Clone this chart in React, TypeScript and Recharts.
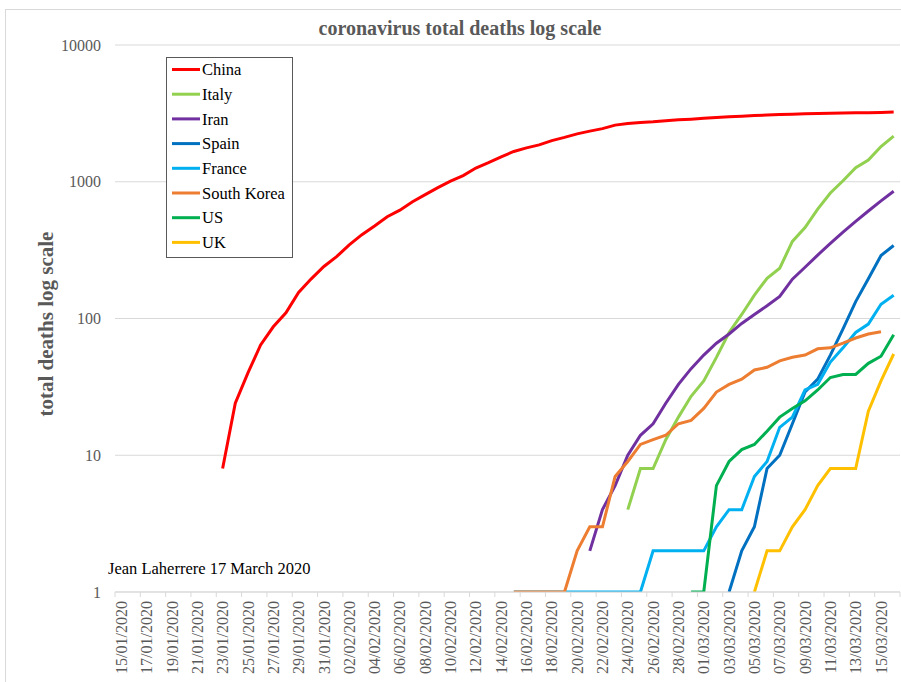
import React from 'react';
import { LineChart, Line, XAxis, YAxis, CartesianGrid } from 'recharts';

const dates = [
  '15/01/2020', '16/01/2020', '17/01/2020', '18/01/2020', '19/01/2020', '20/01/2020', '21/01/2020',
  '22/01/2020', '23/01/2020', '24/01/2020', '25/01/2020', '26/01/2020', '27/01/2020', '28/01/2020',
  '29/01/2020', '30/01/2020', '31/01/2020',
  '01/02/2020', '02/02/2020', '03/02/2020', '04/02/2020', '05/02/2020', '06/02/2020', '07/02/2020',
  '08/02/2020', '09/02/2020', '10/02/2020', '11/02/2020', '12/02/2020', '13/02/2020', '14/02/2020',
  '15/02/2020', '16/02/2020', '17/02/2020', '18/02/2020', '19/02/2020', '20/02/2020', '21/02/2020',
  '22/02/2020', '23/02/2020', '24/02/2020', '25/02/2020', '26/02/2020', '27/02/2020', '28/02/2020',
  '29/02/2020',
  '01/03/2020', '02/03/2020', '03/03/2020', '04/03/2020', '05/03/2020', '06/03/2020', '07/03/2020',
  '08/03/2020', '09/03/2020', '10/03/2020', '11/03/2020', '12/03/2020', '13/03/2020', '14/03/2020',
  '15/03/2020', '16/03/2020',
];

const yTicks = [1, 10, 100, 1000, 10000];

// each series starts on its first date, then one value per day
const chinaFrom = '23/01/2020';
const china = [
  8, 24, 40, 64, 87, 110, 155, 195, 240,
  283, 345, 410, 475, 555, 620, 715, 805, 905, 1010, 1110, 1260, 1380, 1520, 1665, 1770, 1860, 2000,
  2110, 2240, 2345, 2445, 2595, 2665, 2715, 2745, 2790, 2835, 2870,
  2915, 2945, 2985, 3015, 3045, 3075, 3100, 3120, 3140, 3160, 3170, 3180, 3190, 3200, 3215, 3230,
];

const italyFrom = '24/02/2020';
const italy = [
  4, 8, 8, 13, 19, 27,
  35, 52, 79, 107, 148, 197, 233, 366, 463, 631, 827, 1016, 1266, 1441, 1809, 2158,
];

const iranFrom = '21/02/2020';
const iran = [
  2, 4, 6, 10, 14, 17, 24, 33, 43,
  54, 66, 77, 92, 107, 124, 145, 194, 237, 291, 354, 429, 514, 611, 724, 853,
];

const spainFrom = '03/03/2020';
const spain = [1, 2, 3, 8, 10, 17, 29, 36, 54, 84, 133, 195, 289, 342];

const franceFrom = '15/02/2020';
const france = [
  1, 1, 1, 1, 1, 1, 1, 1, 1, 1, 1, 2, 2, 2, 2,
  2, 3, 4, 4, 7, 9, 16, 19, 30, 33, 48, 61, 79, 91, 127, 148,
];

const koreaFrom = '15/02/2020';
const korea = [
  1, 1, 1, 1, 1, 2, 3, 3, 7, 9, 12, 13, 14, 17, 18,
  22, 29, 33, 36, 42, 44, 49, 52, 54, 60, 61, 66, 72, 77, 80,
];

const usFrom = '29/02/2020';
const us = [1, 1, 6, 9, 11, 12, 15, 19, 22, 25, 30, 37, 39, 39, 47, 53, 76];

const ukFrom = '05/03/2020';
const uk = [1, 2, 2, 3, 4, 6, 8, 8, 8, 21, 35, 55];

const series = [
  { key: 'china', name: 'China', color: '#ff0000', from: chinaFrom, values: china },
  { key: 'italy', name: 'Italy', color: '#92d050', from: italyFrom, values: italy },
  { key: 'iran', name: 'Iran', color: '#7030a0', from: iranFrom, values: iran },
  { key: 'spain', name: 'Spain', color: '#0070c0', from: spainFrom, values: spain },
  { key: 'france', name: 'France', color: '#00b0f0', from: franceFrom, values: france },
  { key: 'korea', name: 'South Korea', color: '#ed7d31', from: koreaFrom, values: korea },
  { key: 'us', name: 'US', color: '#00b050', from: usFrom, values: us },
  { key: 'uk', name: 'UK', color: '#ffc000', from: ukFrom, values: uk },
];

const data = dates.map((date, i) => {
  const row: Record<string, string | number | null> = { date };
  series.forEach((s) => {
    const k = i - dates.indexOf(s.from);
    row[s.key] = k >= 0 && k < s.values.length ? s.values[k] : null;
  });
  return row;
});

const W = 901;
const H = 682;
const PLOT_LEFT = 115;
const PLOT_RIGHT = 900;
const HALF = (PLOT_RIGHT - PLOT_LEFT) / dates.length / 2;
const SERIF = '"Liberation Serif", "Times New Roman", serif';
const GREY = '#595959';
const GRID = '#d9d9d9';

function DateTick(props: any) {
  const { x, y, payload } = props;
  const last = payload.value === '15/03/2020';
  return (
    <g>
      <line x1={x - HALF} x2={x - HALF} y1={y} y2={y + 5} stroke={GRID} />
      {last && <line x1={x + 3 * HALF} x2={x + 3 * HALF} y1={y} y2={y + 5} stroke={GRID} />}
      <text
        transform={`translate(${x}, ${y + 9}) rotate(-90)`}
        textAnchor="end"
        dy="0.35em"
        fontSize={16}
        fontFamily={SERIF}
        fill={GREY}
      >
        {payload.value}
      </text>
    </g>
  );
}

export default function App() {
  return (
    <div style={{ position: 'absolute', left: 0, top: 0, width: W, height: H, background: '#fff', overflow: 'hidden' }}>
      <div
        style={{
          position: 'absolute', left: 5, top: 9, width: 1000, height: 1000,
          border: `1px solid ${GRID}`, boxSizing: 'border-box',
        }}
      />
      <div style={{ position: 'absolute', left: 0, top: 0 }}>
        <LineChart width={W} height={H} data={data} margin={{ top: 45, right: W - PLOT_RIGHT, bottom: 0, left: 0 }}>
          <CartesianGrid vertical={false} stroke={GRID} />
          <XAxis
            dataKey="date"
            interval={1}
            height={90}
            padding={{ left: HALF, right: HALF }}
            axisLine={{ stroke: GRID }}
            tickLine={false}
            tickSize={0}
            tickMargin={0}
            tick={<DateTick />}
          />
          <YAxis
            type="number"
            scale="log"
            domain={[1, 10000]}
            ticks={yTicks}
            allowDataOverflow
            width={PLOT_LEFT}
            axisLine={false}
            tickLine={false}
            tickMargin={8}
            tick={{ fontSize: 16, fill: GREY, fontFamily: SERIF }}
          />
          {series.map((s) => (
            <Line
              key={s.key}
              dataKey={s.key}
              name={s.name}
              type="linear"
              stroke={s.color}
              strokeWidth={3}
              dot={false}
              activeDot={false}
              connectNulls={false}
              isAnimationActive={false}
            />
          ))}
        </LineChart>
      </div>
      <svg width={W} height={H} style={{ position: 'absolute', left: 0, top: 0, pointerEvents: 'none' }}>
        <text x={460} y={35} textAnchor="middle" fontFamily={SERIF} fontWeight="bold" fontSize={20} fill={GREY}>
          coronavirus total deaths log scale
        </text>
        <text
          transform="translate(46, 324) rotate(-90)"
          textAnchor="middle"
          dy="0.35em"
          fontFamily={SERIF}
          fontWeight="bold"
          fontSize={21}
          fill={GREY}
        >
          total deaths log scale
        </text>
        <text x={108} y={574} fontFamily={SERIF} fontSize={16.5} fill="#000">
          Jean Laherrere 17 March 2020
        </text>
        <rect x={166.5} y={57.5} width={126} height={200} fill="#fff" stroke="#595959" />
        {series.map((s, i) => {
          const cy = 69.5 + i * 24.7;
          return (
            <g key={s.key}>
              <line x1={172} x2={200} y1={cy} y2={cy} stroke={s.color} strokeWidth={3} />
              <text x={202} y={cy} dy="0.35em" fontFamily={SERIF} fontSize={16.5} fill="#000">
                {s.name}
              </text>
            </g>
          );
        })}
      </svg>
    </div>
  );
}
